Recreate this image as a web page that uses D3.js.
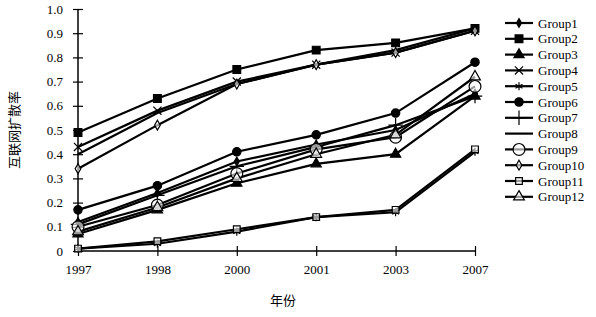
<!DOCTYPE html>
<html lang="zh">
<head>
<meta charset="utf-8">
<script src="https://d3js.org/d3.v7.min.js"></script>
<style>
  body { margin: 0; background: #fff; }
  text { font-family: "Liberation Serif", "DejaVu Serif", serif; fill: #000; }
</style>
</head>
<body>
<div id="chart"></div>
<script>

const years = ["1997", "1998", "2000", "2001", "2003", "2007"];
const yTicks = [0, 0.1, 0.2, 0.3, 0.4, 0.5, 0.6, 0.7, 0.8, 0.9, 1.0];
const groupNames = ["Group1", "Group2", "Group3", "Group4", "Group5", "Group6",
                    "Group7", "Group8", "Group9", "Group10", "Group11", "Group12"];

const group1  = [0.12, 0.24, 0.37, 0.44, 0.50, 0.65];
const group2  = [0.49, 0.63, 0.75, 0.83, 0.86, 0.92];
const group3  = [0.07, 0.17, 0.28, 0.36, 0.40, 0.64];
const group4  = [0.43, 0.58, 0.70, 0.77, 0.82, 0.91];
const group5  = [0.01, 0.03, 0.08, 0.14, 0.16, 0.41];
const group6  = [0.17, 0.27, 0.41, 0.48, 0.57, 0.78];
const group7  = [0.11, 0.23, 0.35, 0.43, 0.52, 0.64];
const group8  = [0.40, 0.57, 0.69, 0.77, 0.83, 0.92];
const group9  = [0.10, 0.19, 0.32, 0.42, 0.47, 0.68];
const group10 = [0.34, 0.52, 0.69, 0.77, 0.82, 0.91];
const group11 = [0.01, 0.04, 0.09, 0.14, 0.17, 0.42];
const group12 = [0.08, 0.18, 0.30, 0.40, 0.48, 0.72];

const series = [group1, group2, group3, group4, group5, group6,
                group7, group8, group9, group10, group11, group12];

// marker per group: symbol type, size, filled
const markers = [
  {type: d3.symbolDiamond,  size: 22, fill: true},
  {type: d3.symbolSquare,   size: 60, fill: true},
  {type: d3.symbolTriangle, size: 45, fill: true},
  {type: d3.symbolTimes,    size: 45, fill: false},
  {type: d3.symbolAsterisk, size: 45, fill: false},
  {type: d3.symbolCircle,   size: 55, fill: true},
  {type: d3.symbolPlus,     size: 70, fill: false},
  null,
  {type: d3.symbolCircle,   size: 110, fill: false},
  {type: d3.symbolDiamond,  size: 28, fill: false},
  {type: d3.symbolSquare,   size: 45, fill: false},
  {type: d3.symbolTriangle, size: 50, fill: false}
];

const W = 596, H = 317;

const svg = d3.select("#chart")
  .append("svg")
    .attr("width", W)
    .attr("height", H);

const x = d3.scalePoint()
  .domain(years)
  .range([78, 475]);

const y = d3.scaleLinear()
  .domain([0, 1])
  .range([251, 9]);

// y axis
const yAxis = svg.append("g")
  .attr("transform", "translate(78,0)")
  .call(d3.axisLeft(y)
    .tickValues(yTicks)
    .tickSize(5)
    .tickPadding(10)
    .tickFormat(d => d === 0 ? "0" : d3.format(".1f")(d)));
yAxis.selectAll(".tick line").attr("x1", 5).attr("x2", -5).attr("stroke-width", 1.2);
yAxis.select(".domain").attr("d", `M0,${y(0)}V${y(1)}`).attr("stroke-width", 1.5);
yAxis.selectAll("text").style("font-size", "13px").style("font-family", "Liberation Serif");

// x axis
const xAxis = svg.append("g")
  .attr("transform", `translate(0,${y(0)})`)
  .call(d3.axisBottom(x).tickSize(5).tickPadding(9));
xAxis.selectAll(".tick line").attr("y1", -5).attr("y2", 5).attr("stroke-width", 1.2);
xAxis.select(".domain").attr("d", `M${x(years[0])},0H${x(years[years.length - 1])}`).attr("stroke-width", 1.5);
xAxis.selectAll("text").style("font-size", "13px").style("font-family", "Liberation Serif");

// axis titles
svg.append("text")
  .attr("x", 283)
  .attr("y", 305)
  .attr("text-anchor", "middle")
  .style("font-family", "Noto Sans CJK SC")
  .style("font-size", "13px")
  .text("年份");

svg.append("text")
  .attr("transform", "translate(19,130) rotate(-90)")
  .attr("text-anchor", "middle")
  .style("font-family", "Noto Sans CJK SC")
  .style("font-size", "13px")
  .text("互联网扩散率");

const line = d3.line()
  .x((d, i) => x(years[i]))
  .y(d => y(d));

series.forEach(function(vals, gi) {
  svg.append("path")
    .datum(vals)
    .attr("fill", "none")
    .attr("stroke", "#000")
    .attr("stroke-width", 2.2)
    .attr("d", line);
});

function drawMarker(g, m, cx, cy) {
  if (!m) return;
  g.append("path")
    .attr("transform", `translate(${cx},${cy})`)
    .attr("d", d3.symbol().type(m.type).size(m.size)())
    .attr("fill", m.fill ? "#000" : "#fff")
    .attr("fill-opacity", m.fill ? 1 : 0.6)
    .attr("stroke", "#000")
    .attr("stroke-width", 1.2);
}

series.forEach(function(vals, gi) {
  const g = svg.append("g");
  vals.forEach(function(v, i) {
    drawMarker(g, markers[gi], x(years[i]), y(v));
  });
});

// legend
const legend = svg.append("g");
groupNames.forEach(function(name, i) {
  const ly = 23 + i * 15.8;
  legend.append("line")
    .attr("x1", 505).attr("x2", 533)
    .attr("y1", ly).attr("y2", ly)
    .attr("stroke", "#000")
    .attr("stroke-width", 2.2);
  drawMarker(legend, markers[i], 519, ly);
  legend.append("text")
    .attr("x", 538)
    .attr("y", ly)
    .attr("dy", "0.35em")
    .style("font-size", "13px")
    .text(name);
});

</script>
</body>
</html>
